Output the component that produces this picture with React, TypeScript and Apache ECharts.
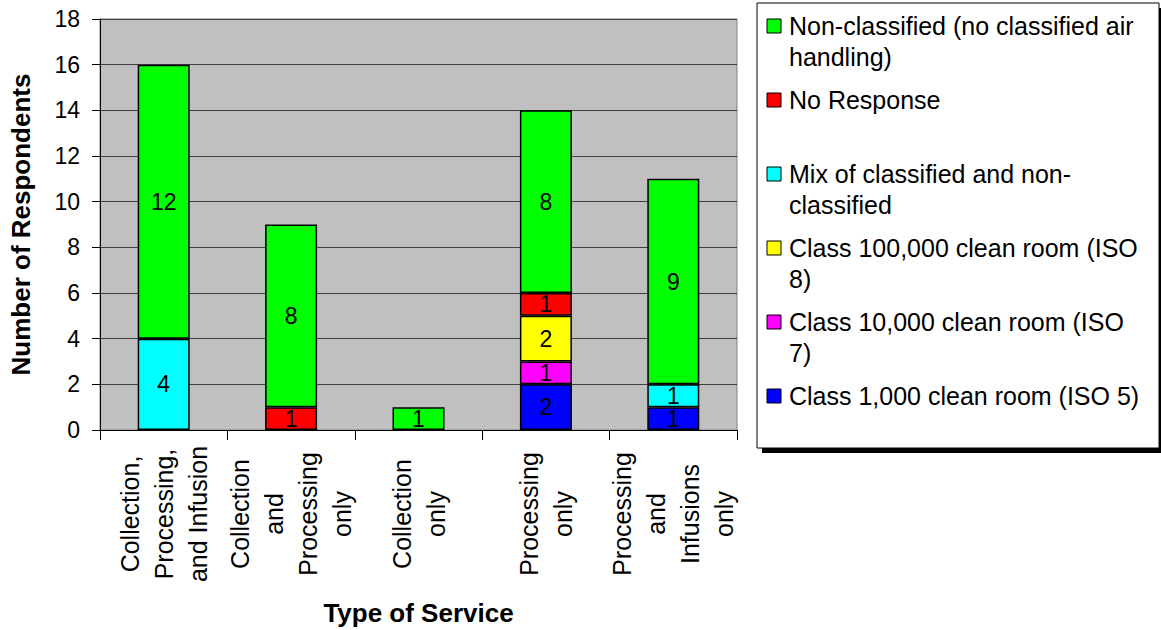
import React, { useEffect, useRef } from "react";
import * as echarts from "echarts";

const categories = [
  "Collection,\nProcessing,\nand Infusion",
  "Collection\nand\nProcessing\nonly",
  "Collection\nonly",
  "Processing\nonly",
  "Processing\nand\nInfusions\nonly",
];

const seriesNames = [
  "Class 1,000 clean room (ISO 5)",
  "Class 10,000 clean room (ISO 7)",
  "Class 100,000 clean room (ISO 8)",
  "Mix of classified and non-classified",
  "No Response",
  "Non-classified (no classified air handling)",
];

const legendLabels = [
  "Class 1,000 clean room (ISO 5)",
  "Class 10,000 clean room (ISO\n7)",
  "Class 100,000 clean room (ISO\n8)",
  "Mix of classified and non-\nclassified",
  "No Response",
  "Non-classified (no classified air\nhandling)",
];

const seriesColors = ["#0000ff", "#ff00ff", "#ffff00", "#00ffff", "#ff0000", "#00ff00"];

const class1000 = [null, null, null, 2, 1];
const class10000 = [null, null, null, 1, null];
const class100000 = [null, null, null, 2, null];
const mixed = [4, null, null, null, 1];
const noResponse = [null, 1, null, 1, null];
const nonClassified = [12, 8, 1, 8, 9];

const seriesValues = [class1000, class10000, class100000, mixed, noResponse, nonClassified];

const FONT = "'Liberation Sans', Arial, sans-serif";

export default function App() {
  const ref = useRef<HTMLDivElement>(null);
  useEffect(() => {
    if (!ref.current) return;
    const chart = echarts.init(ref.current, null, { renderer: "svg" });

    const legendX = 757;
    const legendY = 3;
    const legendW = 402;
    const legendH = 445;
    const slot = 74;
    const legendItems: any[] = [];
    const order = seriesNames.map((_, i) => seriesNames.length - 1 - i);
    order.forEach((si, k) => {
      const cy = 26 + k * slot;
      legendItems.push({
        type: "rect",
        shape: { x: 767, y: cy - 7, width: 14, height: 14 },
        style: { fill: seriesColors[si], stroke: "#000", lineWidth: 1 },
      });
      legendItems.push({
        type: "text",
        x: 789,
        y: cy - 15.5,
        style: {
          text: legendLabels[si],
          fontSize: 25,
          fontFamily: FONT,
          fill: "#000",
          lineHeight: 31,
          verticalAlign: "top",
          align: "left",
        },
      });
    });

    chart.setOption({
      animation: false,
      textStyle: { fontFamily: FONT },
      grid: {
        left: 100,
        right: 1161 - 737,
        top: 19,
        bottom: 630 - 430,
        outerBoundsMode: "none",
        containLabel: false,
        show: true,
        backgroundColor: "#c0c0c0",
        borderColor: "#808080",
        borderWidth: 1,
      },
      xAxis: {
        type: "category",
        data: categories,
        name: "Type of Service",
        nameLocation: "middle",
        nameGap: 170,
        nameTextStyle: { fontSize: 26, fontWeight: "bold", color: "#000", fontFamily: FONT },
        axisLine: { lineStyle: { color: "#000", width: 1 } },
        axisTick: { show: true, length: 10, lineStyle: { color: "#000" } },
        axisLabel: {
          rotate: 90,
          align: "center",
          verticalAlign: "middle",
          margin: 84,
          fontSize: 25,
          lineHeight: 34,
          color: "#000",
          fontFamily: FONT,
          interval: 0,
        },
        splitLine: { show: false },
      },
      yAxis: {
        type: "value",
        min: 0,
        max: 18,
        interval: 2,
        name: "Number of Respondents",
        nameLocation: "middle",
        nameGap: 66,
        nameTextStyle: { fontSize: 26, fontWeight: "bold", color: "#000", fontFamily: FONT },
        axisLine: { show: true, lineStyle: { color: "#000", width: 1 } },
        axisTick: { show: true, length: 8, lineStyle: { color: "#000" } },
        axisLabel: { fontSize: 23, color: "#000", margin: 20, fontFamily: FONT },
        splitLine: { show: true, lineStyle: { color: "#404040", width: 1 } },
      },
      series: seriesNames.map((name, i) => ({
        name,
        type: "bar",
        stack: "total",
        barWidth: 52,
        data: seriesValues[i],
        itemStyle: { color: seriesColors[i], borderColor: "#000", borderWidth: 1.5 },
        label: {
          show: true,
          position: "inside",
          fontSize: 23,
          color: "#000",
          fontFamily: FONT,
          formatter: (p: any) => (p.value == null ? "" : String(p.value)),
        },
      })),
      graphic: [
        {
          type: "rect",
          shape: { x: legendX + 5, y: legendY + 5, width: legendW, height: legendH },
          style: { fill: "#000" },
        },
        {
          type: "rect",
          shape: { x: legendX, y: legendY, width: legendW, height: legendH },
          style: { fill: "#fff", stroke: "#000", lineWidth: 1 },
        },
        ...legendItems,
      ],
    });
    return () => chart.dispose();
  }, []);
  return (
    <div
      ref={ref}
      style={{ position: "absolute", left: 0, top: 0, width: 1161, height: 630, background: "#fff" }}
    />
  );
}
